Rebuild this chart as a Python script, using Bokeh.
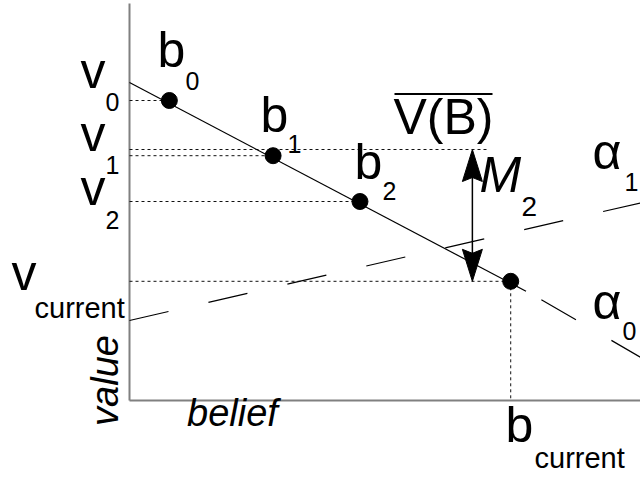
import math

from bokeh.core.properties import value
from bokeh.embed import file_html
from bokeh.models import Range1d
from bokeh.plotting import figure
from bokeh.resources import INLINE

# --- diagram data (belief on x, value on y, both in [0, 1]) ---------------
point_names = ["b_0", "b_1", "b_2", "b_current"]
point_beliefs = [0.078, 0.281, 0.451, 0.746]
point_values = [0.750, 0.612, 0.4975, 0.298]

# alpha_0: solid where it forms the value function, dashed beyond
alpha0_solid_belief = [0.0, 0.776]
alpha0_solid_value = [0.795, 0.273]
alpha0_dash_belief = [0.806, 1.0]
alpha0_dash_value = [0.252, 0.108]

# alpha_1: dashed over the whole belief range
alpha1_belief = [0.0, 1.0]
alpha1_value = [0.200, 0.494]

# upper bound V(B) and the gap M_2 down to v_current
vbar_level = 0.6275
vbar_extent = 0.700
gap_belief = 0.671

# --- canvas geometry ----------------------------------------------------
W, H = 640, 477
ORIGIN_X, ORIGIN_Y = 129, 400       # pixel position of (0, 0)
SX, SY = 511.0, 400.0               # pixels per unit of belief / value
BASELINE_LIFT = 0.37                # em fraction the text box sits below its baseline


def bx(px):
    """pixel column -> belief units"""
    return (px - ORIGIN_X) / SX


def vy(py):
    """pixel row -> value units"""
    return (ORIGIN_Y - py) / SY


p = figure(
    width=W, height=H,
    x_range=Range1d(bx(0), bx(W)), y_range=Range1d(vy(H), vy(0)),
    output_backend="svg", toolbar_location=None,
    x_axis_type=None, y_axis_type=None, min_border=0,
)
p.grid.visible = False
p.outline_line_color = None
p.background_fill_color = "white"
p.border_fill_color = "white"

# axes
p.line([0, 0], [0, vy(3)], line_color="#808080", line_width=2)
p.line([0, 1.0], [0, 0], line_color="#808080", line_width=2)

# dotted guides from the value axis to each belief point
guide_dash = "3 3"
guide_color = "#111111"
for b, v in zip(point_beliefs, point_values):
    p.line([0, b], [v, v], line_color=guide_color, line_width=1, line_dash=guide_dash)
p.line([0, vbar_extent], [vbar_level, vbar_level], line_color=guide_color,
       line_width=1, line_dash=guide_dash)
p.line([point_beliefs[-1], point_beliefs[-1]], [point_values[-1], 0],
       line_color=guide_color, line_width=1, line_dash=guide_dash)

# alpha vectors
p.line(alpha0_solid_belief, alpha0_solid_value, line_color="black", line_width=1.2)
p.line(alpha0_dash_belief, alpha0_dash_value, line_color="black", line_width=1.2,
       line_dash="40 41")
p.line(alpha1_belief, alpha1_value, line_color="black", line_width=1.2,
       line_dash="40 41")

# belief points
p.scatter(point_beliefs, point_values, size=16, color="black")

# double-headed arrow for M_2
head_len, head_half, notch = 32, 10, 4
top, bot = vbar_level, point_values[-1]
p.line([gap_belief, gap_belief], [top - head_len / SY * 0.8, bot + head_len / SY * 0.8],
       line_color="black", line_width=1.5)
hx = head_half / SX
p.patches(
    xs=[[gap_belief, gap_belief + hx, gap_belief, gap_belief - hx],
        [gap_belief, gap_belief + hx, gap_belief, gap_belief - hx]],
    ys=[[top, top - head_len / SY, top - (head_len - notch) / SY, top - head_len / SY],
        [bot, bot + head_len / SY, bot + (head_len - notch) / SY, bot + head_len / SY]],
    fill_color="black", line_color="black", line_width=1,
)

# overline of V(B)
p.line([bx(394), bx(492)], [vy(93.5), vy(93.5)], line_color="black", line_width=2)

# --- labels ------------------------------------------------------------
FONT = value("Liberation Sans")
BIG = 50
AXIS = 38
labels = [
    # text, x px, baseline px, size, style
    ("b", 157, 68, BIG, "normal"), ("0", 185, 90, 25, "normal"),
    ("b", 260, 133, BIG, "normal"), ("1", 287, 153, 25, "normal"),
    ("b", 354, 180, BIG, "normal"), ("2", 382, 200, 25, "normal"),
    ("v", 80, 89, BIG, "normal"), ("0", 105, 111, 25, "normal"),
    ("v", 80, 152, BIG, "normal"), ("1", 105, 174, 25, "normal"),
    ("v", 80, 206, BIG, "normal"), ("2", 105, 229, 25, "normal"),
    ("v", 11, 291, BIG, "normal"), ("current", 34, 318, 29, "normal"),
    ("b", 505, 443, BIG, "normal"), ("current", 534, 468, 29, "normal"),
    ("V(B)", 393, 135, BIG, "normal"),
    ("\u03b1", 592, 170, BIG, "normal"), ("1", 624, 191, 25, "normal"),
    ("\u03b1", 592, 320, BIG, "normal"), ("0", 622, 340, 25, "normal"),
    ("M", 479, 193, BIG, "italic"), ("2", 521, 216, 28, "normal"),
]
for text, x, y, size, style in labels:
    p.text(x=[bx(x)], y=[vy(y - BASELINE_LIFT * size)], text=[text], text_font=FONT,
           text_font_size=value(f"{size}px"), text_font_style=style,
           text_align="left", text_baseline="alphabetic", text_color="black")

p.text(x=[bx(232)], y=[vy(427 - BASELINE_LIFT * AXIS)], text=["belief"], text_font=FONT,
       text_font_size=value(f"{AXIS}px"), text_font_style="italic",
       text_align="center", text_baseline="alphabetic", text_color="black")
p.text(x=[bx(119 - BASELINE_LIFT * AXIS)], y=[vy(380)], text=["value"], text_font=FONT,
       text_font_size=value(f"{AXIS}px"), text_font_style="italic", angle=math.pi / 2,
       text_align="center", text_baseline="alphabetic", text_color="black")

open("out.html", "w").write(file_html(p, INLINE))
